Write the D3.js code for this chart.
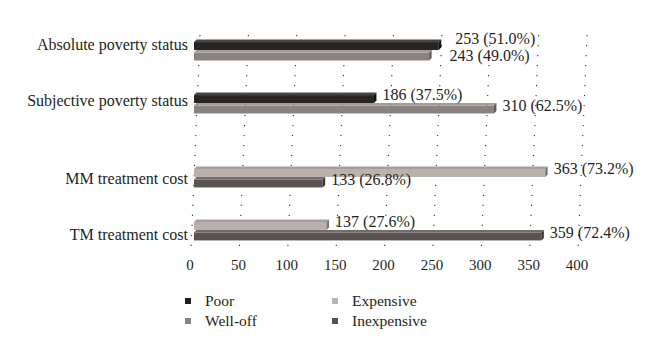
<!DOCTYPE html>
<html><head><meta charset="utf-8">
<script src="https://cdn.jsdelivr.net/npm/d3@7"></script>
<style>body{margin:0;background:#fff}svg{display:block}text{font-family:"Liberation Serif","DejaVu Serif",serif;fill:#231f20}</style>
</head><body>
<svg id="c" width="660" height="360"></svg>
<script>
const categories = ["Absolute poverty status","Subjective poverty status","MM treatment cost","TM treatment cost"];
const seriesNames = ["Poor","Well-off","Expensive","Inexpensive"];
const poor = [253, 186, null, null];
const wellOff = [243, 310, null, null];
const expensive = [null, null, 363, 137];
const inexpensive = [null, null, 133, 359];
const poorPct = ["51.0%","37.5%",null,null];
const wellOffPct = ["49.0%","62.5%",null,null];
const expensivePct = [null,null,"73.2%","27.6%"];
const inexpensivePct = [null,null,"26.8%","72.4%"];
const xTicks = [0,50,100,150,200,250,300,350,400];

const values = [poor, wellOff, expensive, inexpensive];
const pcts = [poorPct, wellOffPct, expensivePct, inexpensivePct];
const colors = {
  "Poor":{front:"#282422",top:"#4a4543",side:"#141110",legend:"#231f1e"},
  "Well-off":{front:"#8b8381",top:"#a39b99",side:"#625b59",legend:"#8a8280"},
  "Expensive":{front:"#bab1ae",top:"#a69e9b",side:"#7d7573",legend:"#bdb4b1"},
  "Inexpensive":{front:"#5b5351",top:"#746c6a",side:"#3a3331",legend:"#575050"}
};

const svg = d3.select("#c");
const x = d3.scaleLinear().domain([0,400]).range([194,581]);
const y0 = d3.scaleBand().domain(categories).range([34,246]).paddingInner(0.21).paddingOuter(0.105);
const y1 = d3.scaleBand().domain(seriesNames).range([0,y0.bandwidth()]);
const depth = 2.5;
const gTop = 35, gBot = 250, skewTop = 6, skewBot = -3;
const labelFont = 16;

// gridlines
svg.append("g").selectAll("line").data(xTicks).join("line")
  .attr("x1",d=>x(d)+skewTop).attr("y1",gTop)
  .attr("x2",d=>x(d)+skewBot).attr("y2",gBot)
  .attr("stroke","#333").attr("stroke-width",1.1)
  .attr("stroke-dasharray","1.2,8.8");

// tick labels
svg.append("g").selectAll("text").data(xTicks).join("text")
  .attr("x",d=>x(d)-4).attr("y",270).attr("text-anchor","middle")
  .attr("font-size",15).text(d=>d);

// bars
const bars = [];
categories.forEach((c,i)=>{
  seriesNames.forEach((s,j)=>{
    const v = values[j][i];
    if(v!=null) bars.push({c,s,v,pct:pcts[j][i],ci:i});
  });
});
const gb = svg.append("g");
bars.forEach(b=>{
  const t = y0(b.c)+y1(b.s), h = y1.bandwidth();
  const x0 = x(0), xv = x(b.v);
  b.t=t; b.h=h; b.xv=xv;
  b.lx = xv+depth+6; b.ly = t+h/2-1;
  const col = colors[b.s];
  gb.append("rect").attr("x",x0).attr("y",t+depth).attr("width",xv-x0).attr("height",h-depth).attr("fill",col.front);
  gb.append("path").attr("d",`M${x0},${t+depth}L${x0+depth},${t}L${xv+depth},${t}L${xv},${t+depth}Z`).attr("fill",col.top);
  gb.append("path").attr("d",`M${xv},${t+depth}L${xv+depth},${t}L${xv+depth},${t+h-depth}L${xv},${t+h}Z`).attr("fill",col.side);
});
// resolve label overlaps within a category (spread vertically)
const minGap = 17;
for(let k=1;k<bars.length;k++){
  const a=bars[k-1], b=bars[k];
  if(a.ci!==b.ci) continue;
  const estW = 80;
  const overlapX = Math.abs(a.lx-b.lx) < estW;
  const gap = b.ly-a.ly;
  if(overlapX && gap<minGap){
    const d=(minGap-gap)/2;
    a.ly-=d; b.ly+=d;
    a.lx+=8; b.lx+=12;
  }
}
bars.forEach(b=>{
  gb.append("text").attr("x",b.lx).attr("y",b.ly).attr("dominant-baseline","middle")
    .attr("font-size",labelFont).text(`${b.v} (${b.pct})`);
});

// category labels (slightly spread, as in the 3D perspective of the original)
const pc = (y0.range()[0]+y0.range()[1])/2;
svg.append("g").selectAll("text").data(categories).join("text")
  .attr("x",188)
  .attr("y",(c,i)=>{
    const js = seriesNames.map((s,j)=>j).filter(j=>values[j][i]!=null);
    const top = y0(c)+y1(seriesNames[js[0]]);
    const bot = y0(c)+y1(seriesNames[js[js.length-1]])+y1.bandwidth();
    const ctr = (top+bot)/2;
    return pc + (ctr-pc)*1.055;
  })
  .attr("dy","0.32em").attr("text-anchor","end").attr("font-size",labelFont).text(d=>d);

// legend
const legendPos = [{cx:188,cy:301},{cx:188,cy:321},{cx:335,cy:301},{cx:335,cy:321}];
const lg = svg.append("g");
seriesNames.forEach((s,i)=>{
  const p = legendPos[i];
  lg.append("rect").attr("x",p.cx-3).attr("y",p.cy-3).attr("width",6).attr("height",6).attr("fill",colors[s].legend);
  lg.append("text").attr("x",p.cx+17).attr("y",p.cy).attr("dy","0.32em").attr("font-size",15.5).text(s);
});
</script>
</body></html>
